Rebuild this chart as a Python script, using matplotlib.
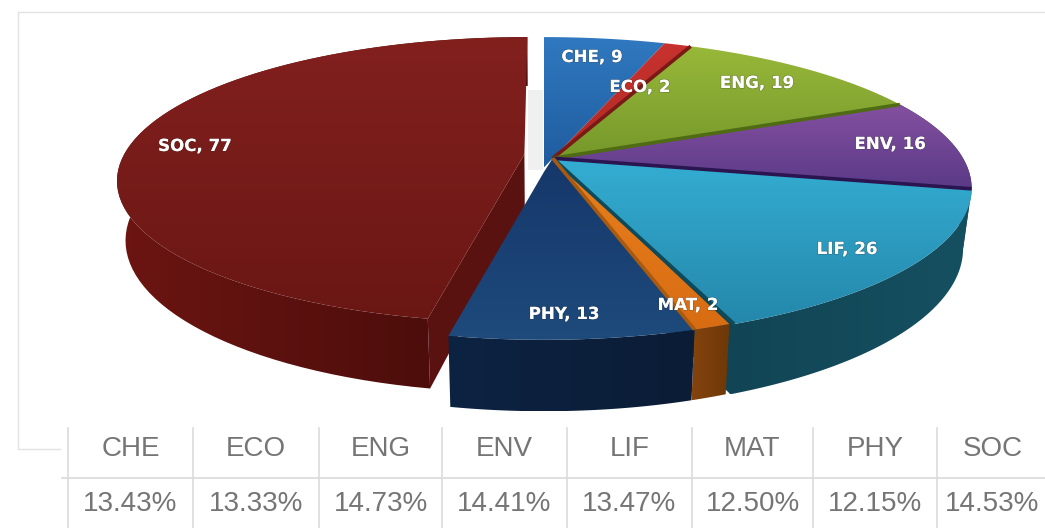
import numpy as np
import matplotlib
matplotlib.use('Agg')
import matplotlib.pyplot as plt
import matplotlib.patheffects as pe
from matplotlib.colors import LinearSegmentedColormap
from matplotlib.patches import Polygon

# data
categories = ['CHE', 'ECO', 'ENG', 'ENV', 'LIF', 'MAT', 'PHY', 'SOC']
counts = [9, 2, 19, 16, 26, 2, 13, 77]
shares = ['13.43%', '13.33%', '14.73%', '14.41%', '13.47%', '12.50%', '12.15%', '14.53%']

top_colors = {
    'CHE': ('#3079c0', '#1f5c9e'), 'ECO': ('#c8322e', '#b02a26'),
    'ENG': ('#98b83a', '#76982a'), 'ENV': ('#84509f', '#5a3a88'),
    'LIF': ('#34add2', '#2488ab'), 'MAT': ('#e8801e', '#d86c12'),
    'PHY': ('#16376a', '#1e4a7c'), 'SOC': ('#82201e', '#6a1714'),
}
wall_colors = {
    'LIF': ('#0f3d4c', '#155061'), 'ENV': ('#3a2358', '#3a2358'),
    'MAT': ('#83430e', '#6e3808'), 'PHY': ('#0d2342', '#0b1c36'),
    'SOC': ('#6c1512', '#430b09'),
}
edge_colors = {'ECO': '#7a1a16', 'ENG': '#4f6b14', 'ENV': '#2a1550', 'LIF': '#0f4a5a', 'MAT': '#a85a10'}

# label anchors in picture pixels
label_pos = {'CHE': (592, 57), 'ECO': (640, 87), 'ENG': (757, 83), 'ENV': (890, 144),
             'LIF': (847, 249), 'MAT': (688, 305), 'PHY': (564, 314), 'SOC': (195, 146)}
col_lines = [68, 193, 319, 442, 567, 692, 813, 937, 1048]

# perspective of the disc
cx, cy = 544, 160
rx, ry = 420, 146
k = 0.188
depth = 58
hub = (0.021, 0.012)
# the thin front slices sit a little tighter than the rim
u_scale = {'MAT': 0.975, 'PHY': 0.975}


def project(u, v, z=0.0):
    s = 1 / (1 + k * np.asarray(v))
    shrink = 1 - 0.02 * z
    return cx + rx * np.asarray(u) * s * shrink, cy - ry * np.asarray(v) * s + depth * z * s


def rim(a0, a1, radius=1.0, off=(0, 0), xs=1.0):
    a = np.radians(np.linspace(a0, a1, 80))
    return off[0] + xs * radius * np.sin(a), off[1] + radius * np.cos(a)


def grad_poly(ax, xs, ys, colors, horizontal=False, zorder=2):
    pts = np.column_stack([xs, ys])
    cmap = LinearSegmentedColormap.from_list('g', colors)
    g = np.linspace(0, 1, 128)
    g = g.reshape(1, -1) if horizontal else g.reshape(-1, 1)
    im = ax.imshow(g, cmap=cmap, aspect='auto', origin='upper', zorder=zorder,
                   extent=(xs.min(), xs.max(), ys.max(), ys.min()))
    patch = Polygon(pts, closed=True, facecolor='none', edgecolor='none', transform=ax.transData)
    ax.add_patch(patch)
    im.set_clip_path(patch)


def draw_wall(ax, u, v, colors, zorder):
    xt, yt = project(u, v, 0)
    xb, yb = project(u, v, 1)
    grad_poly(ax, np.r_[xt, xb[::-1]], np.r_[yt, yb[::-1]], colors, horizontal=True, zorder=zorder)


fig = plt.figure(figsize=(10.45, 5.28), dpi=100)
ax = fig.add_axes([0, 0, 1, 1])

# chart frame and table rules
ax.plot([1045, 18, 18, 60], [12, 12, 449, 449], color='#e2e2e2', lw=1.0, zorder=1)
ax.plot([62, 1045], [478, 478], color='#dcdcdc', lw=1.3, zorder=1)
for x in col_lines[:-1]:
    ax.plot([x, x], [428, 528], color='#dcdcdc', lw=1.2, zorder=1)

# faint shadow in the gap
ax.fill([528, 543, 543, 528], [90, 90, 170, 170], color='#f0f0f0', lw=0, zorder=1)

angles = np.r_[0, np.cumsum(counts)] / np.sum(counts) * 360

# SOC is pulled out from the rest and a bit smaller
soc_r, soc_off = 0.96, (-0.047, 0.04)

# walls, back to front
soc = categories.index('SOC')
u, v = rim(angles[soc], angles[soc + 1], soc_r, soc_off)
cu = np.array([u[0], soc_off[0]])
cv = np.array([v[0], soc_off[1]])
xt, yt = project(cu, cv, 0)
xb, yb = project(cu, cv, 1)
ax.fill(np.r_[xt, xb[::-1]], np.r_[yt, yb[::-1]], color='#5a1210', lw=0, zorder=2)
draw_wall(ax, u, v, wall_colors['SOC'], 3)
for i, name in enumerate(categories):
    if name in ('ENV', 'LIF', 'MAT', 'PHY'):
        u, v = rim(angles[i], angles[i + 1], xs=u_scale.get(name, 1.0))
        if name == 'LIF':
            # cut face shows next to MAT
            u, v = np.r_[u, hub[0]], np.r_[v, hub[1]]
        draw_wall(ax, u, v, wall_colors[name], 4 + i)

# top faces
for i, name in enumerate(categories):
    if name == 'SOC':
        u, v = rim(angles[i], angles[i + 1], soc_r, soc_off)
        pu, pv = np.r_[soc_off[0], u], np.r_[soc_off[1], v]
    else:
        u, v = rim(angles[i], angles[i + 1], xs=u_scale.get(name, 1.0))
        pu, pv = np.r_[hub[0], u], np.r_[hub[1], v]
        if name == 'CHE':
            pu, pv = np.r_[hub[0], 0.0, u], np.r_[hub[1], -0.05, v]
        if name == 'PHY':
            pu, pv = np.r_[0.0, hub[0], u], np.r_[-0.08, hub[1], v]
    x, y = project(pu, pv, 0)
    grad_poly(ax, x, y, top_colors[name], zorder=20 + i)
    if name in edge_colors:
        xe, ye = project(np.r_[hub[0], u[-1]], np.r_[hub[1], v[-1]], 0)
        ax.plot(xe, ye, color=edge_colors[name], lw=2.6, zorder=30, solid_capstyle='butt')

# slice labels
for name, n in zip(categories, counts):
    px, py = label_pos[name]
    ax.text(px, py, f'{name}, {n}', color='white', fontsize=12, fontweight='bold',
            family='DejaVu Sans', ha='center', va='center', zorder=40,
            path_effects=[pe.withStroke(linewidth=1.2, foreground=(0.2, 0.2, 0.2, 0.25))])

# table text
for i, (name, share) in enumerate(zip(categories, shares)):
    xc = (col_lines[i] + col_lines[i + 1]) / 2
    ax.text(xc, 449, name, color='#757575', fontsize=20, family='Liberation Sans', ha='center', va='center')
    ax.text(xc, 504, share, color='#757575', fontsize=20, family='Liberation Sans', ha='center', va='center')

ax.set_xlim(0, 1045)
ax.set_ylim(528, 0)
ax.axis('off')
fig.savefig('out.png', dpi=100)
